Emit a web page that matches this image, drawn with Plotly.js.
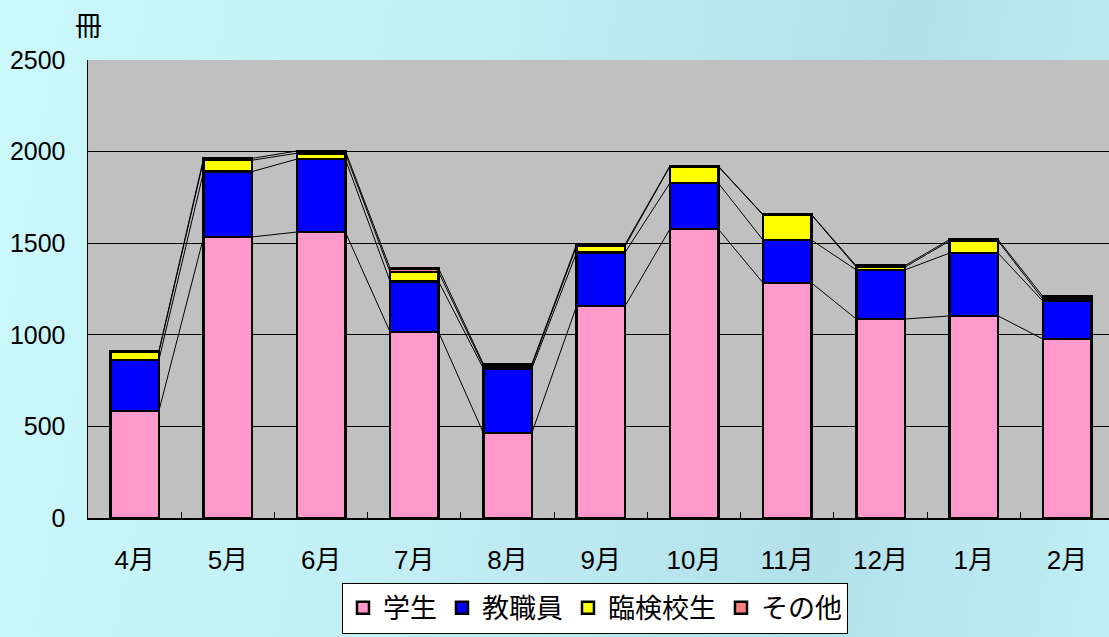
<!DOCTYPE html>
<html><head><meta charset="utf-8">
<script src="https://cdn.plot.ly/plotly-3.0.1.min.js"></script>
<style>
html,body{margin:0;padding:0;width:1109px;height:637px;overflow:hidden;
background:linear-gradient(100deg,#cbf8fa 0%,#c2eff4 40%,#b3e1ea 75%,#bfeef4 100%);}
#chart{width:1109px;height:637px;}
</style></head><body><div id="chart"></div>
<script>
const months = ["4月","5月","6月","7月","8月","9月","10月","11月","12月","1月","2月"];
const students = [584, 1534, 1561, 1015, 464, 1157, 1577, 1283, 1086, 1103, 977];
const staff    = [278, 357, 398, 276, 352, 292, 251, 234, 268, 343, 207];
const rinken   = [44, 62, 32, 52, 15, 35, 90, 137, 15, 66, 12];
const others   = [5, 10, 12, 20, 10, 10, 3, 2, 8, 8, 14];
const seriesNames = ["学生","教職員","臨検校生","その他"];
const seriesColors = ["#ff99cc","#0000ff","#ffff00","#ff8080"];

const series = [students, staff, rinken, others];
const idx = months.map((_, i) => i);
const barW = 0.52, half = barW / 2;
const font = "Liberation Sans, Arial, Noto Sans CJK JP, sans-serif";

const traces = series.map((vals, s) => ({
  type: "bar", x: idx, y: vals, name: seriesNames[s], width: barW,
  marker: {color: seriesColors[s], line: {color: "#000", width: 2.5}},
  hoverinfo: "skip"
}));

// series lines connecting cumulative tops between adjacent bars
let cum = idx.map(() => 0);
series.forEach((vals) => {
  cum = cum.map((c, i) => c + vals[i]);
  const lx = [], ly = [];
  for (let i = 0; i < idx.length - 1; i++) {
    lx.push(i + half, i + 1 - half, null);
    ly.push(cum[i], cum[i + 1], null);
  }
  traces.push({type: "scatter", mode: "lines", x: lx, y: ly, showlegend: false,
    line: {color: "#000", width: 1}, hoverinfo: "skip"});
});

const layout = {
  width: 1109, height: 637,
  margin: {l: 88, r: 0, t: 60, b: 119},
  paper_bgcolor: "rgba(0,0,0,0)", plot_bgcolor: "#c0c0c0",
  barmode: "stack",
  font: {family: font, size: 25, color: "#000"},
  xaxis: {
    range: [-0.5, 10.45], tickvals: idx, ticktext: months, ticks: "",
    showgrid: false, zeroline: false, showline: true, linecolor: "#000", linewidth: 1.5,
    tickfont: {size: 26}, ticklabelstandoff: 18,
    minor: {tickvals: idx.slice(1).map(i => i - 0.5), ticks: "inside", ticklen: 6, tickcolor: "#000", showgrid: false}
  },
  yaxis: {
    range: [0, 2500], dtick: 500, showgrid: true, gridcolor: "#000", gridwidth: 1,
    zeroline: false, showline: true, linecolor: "#000", linewidth: 1.5, mirror: true,
    ticks: "", tickfont: {size: 25}, ticklabelstandoff: 16
  },
  legend: {
    orientation: "h", xref: "container", yref: "container",
    x: 0.5365, xanchor: "center", y: 0.005, yanchor: "bottom",
    bgcolor: "#fff", bordercolor: "#000", borderwidth: 1,
    font: {size: 27, family: "Noto Sans CJK JP, sans-serif"},
    itemwidth: 30, traceorder: "normal", tracegroupgap: 0
  },
  annotations: [{
    text: "冊", xref: "paper", yref: "paper", x: 0, y: 1, yshift: 36, xanchor: "center",
    yanchor: "middle", showarrow: false, font: {size: 27, family: "Noto Sans CJK JP, sans-serif"}
  }]
};

Plotly.newPlot("chart", traces, layout, {displayModeBar: false, staticPlot: true});
</script></body></html>
